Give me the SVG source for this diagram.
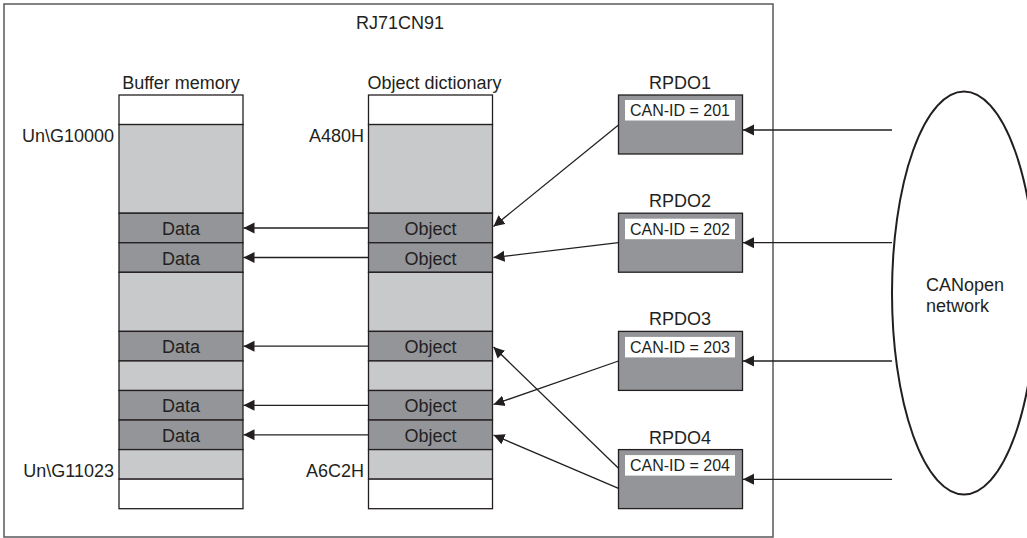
<svg xmlns="http://www.w3.org/2000/svg" width="1027" height="538" viewBox="0 0 1027 538">
<style>
text{font-family:"Liberation Sans",Arial,sans-serif;fill:#231f20}
.t18{font-size:18px}
.t16{font-size:16px}
.mid{text-anchor:middle}
.end{text-anchor:end}
.w{fill:#ffffff;stroke:#231f20;stroke-width:1.3}
.l{fill:#c8c9cb;stroke:#231f20;stroke-width:1.3}
.d{fill:#939598;stroke:#231f20;stroke-width:1.3}
.lbl{fill:#ffffff;stroke:none}
.c{stroke:#231f20;stroke-width:1.3;fill:none;marker-end:url(#ah)}
</style>
<defs>
<marker id="ah" markerUnits="userSpaceOnUse" markerWidth="12" markerHeight="12" refX="11" refY="6" orient="auto">
<path d="M0,0.5 L11,6 L0,11.5 Z" fill="#231f20"/>
</marker>
</defs>
<rect width="1027" height="538" fill="#ffffff"/>
<g id="module">
<rect x="4" y="4" width="769" height="533" fill="none" stroke="#58595b" stroke-width="1.5"/>
<text class="t18 mid" x="400" y="29">RJ71CN91</text>
</g>
<g id="buffer-memory">
<text class="t18 mid" x="181" y="89">Buffer memory</text>
<rect class="w" x="119" y="95" width="124" height="29.55"/>
<rect class="l" x="119" y="124.55" width="124" height="88.65"/>
<rect class="d" x="119" y="213.2" width="124" height="29.55"/>
<rect class="d" x="119" y="242.75" width="124" height="29.55"/>
<rect class="l" x="119" y="272.3" width="124" height="59.1"/>
<rect class="d" x="119" y="331.4" width="124" height="29.55"/>
<rect class="l" x="119" y="360.95" width="124" height="29.55"/>
<rect class="d" x="119" y="390.5" width="124" height="29.55"/>
<rect class="d" x="119" y="420.05" width="124" height="29.55"/>
<rect class="l" x="119" y="449.6" width="124" height="29.55"/>
<rect class="w" x="119" y="479.15" width="124" height="29.55"/>
<text class="t18 mid" x="181" y="235">Data</text>
<text class="t18 mid" x="181" y="264.5">Data</text>
<text class="t18 mid" x="181" y="353">Data</text>
<text class="t18 mid" x="181" y="412">Data</text>
<text class="t18 mid" x="181" y="441.5">Data</text>
<text class="t18 end" x="114" y="142">Un\G10000</text>
<text class="t18 end" x="114" y="477">Un\G11023</text>
</g>
<g id="object-dictionary">
<text class="t18 mid" x="434.5" y="89">Object dictionary</text>
<rect class="w" x="368.5" y="95" width="124" height="29.55"/>
<rect class="l" x="368.5" y="124.55" width="124" height="88.65"/>
<rect class="d" x="368.5" y="213.2" width="124" height="29.55"/>
<rect class="d" x="368.5" y="242.75" width="124" height="29.55"/>
<rect class="l" x="368.5" y="272.3" width="124" height="59.1"/>
<rect class="d" x="368.5" y="331.4" width="124" height="29.55"/>
<rect class="l" x="368.5" y="360.95" width="124" height="29.55"/>
<rect class="d" x="368.5" y="390.5" width="124" height="29.55"/>
<rect class="d" x="368.5" y="420.05" width="124" height="29.55"/>
<rect class="l" x="368.5" y="449.6" width="124" height="29.55"/>
<rect class="w" x="368.5" y="479.15" width="124" height="29.55"/>
<text class="t18 mid" x="430.5" y="235">Object</text>
<text class="t18 mid" x="430.5" y="264.5">Object</text>
<text class="t18 mid" x="430.5" y="353">Object</text>
<text class="t18 mid" x="430.5" y="412">Object</text>
<text class="t18 mid" x="430.5" y="441.5">Object</text>
<text class="t18 end" x="364" y="142">A480H</text>
<text class="t18 end" x="364" y="477">A6C2H</text>
</g>
<g id="rpdo1">
<text class="t18 mid" x="680" y="89">RPDO1</text>
<rect class="d" x="618.5" y="95" width="124" height="59"/>
<rect class="lbl" x="625" y="100" width="110" height="20.5"/>
<text class="t16 mid" x="680" y="116">CAN-ID = 201</text>
</g>
<g id="rpdo2">
<text class="t18 mid" x="680" y="207">RPDO2</text>
<rect class="d" x="618.5" y="213.2" width="124" height="59"/>
<rect class="lbl" x="625" y="218.7" width="110" height="20.5"/>
<text class="t16 mid" x="680" y="234.5">CAN-ID = 202</text>
</g>
<g id="rpdo3">
<text class="t18 mid" x="680" y="324.5">RPDO3</text>
<rect class="d" x="618.5" y="331.4" width="124" height="59"/>
<rect class="lbl" x="625" y="336.9" width="110" height="20.5"/>
<text class="t16 mid" x="680" y="352.7">CAN-ID = 203</text>
</g>
<g id="rpdo4">
<text class="t18 mid" x="680" y="443.5">RPDO4</text>
<rect class="d" x="618.5" y="449.6" width="124" height="59"/>
<rect class="lbl" x="625" y="455.1" width="110" height="20.5"/>
<text class="t16 mid" x="680" y="470.9">CAN-ID = 204</text>
</g>
<g id="canopen-network">
<ellipse cx="964" cy="293" rx="72" ry="201.5" fill="none" stroke="#231f20" stroke-width="2"/>
<text class="t18" x="926" y="291">CANopen</text>
<text class="t18" x="926" y="312">network</text>
</g>
<g id="connectors">
<line class="c" x1="368.5" y1="228" x2="243.5" y2="228"/>
<line class="c" x1="368.5" y1="257.5" x2="243.5" y2="257.5"/>
<line class="c" x1="368.5" y1="346.2" x2="243.5" y2="346.2"/>
<line class="c" x1="368.5" y1="405.3" x2="243.5" y2="405.3"/>
<line class="c" x1="368.5" y1="434.8" x2="243.5" y2="434.8"/>
<line class="c" x1="618.5" y1="125" x2="493.5" y2="226.5"/>
<line class="c" x1="618.5" y1="242.7" x2="493.5" y2="257.5"/>
<line class="c" x1="618.5" y1="361" x2="493.5" y2="404.5"/>
<line class="c" x1="618.5" y1="468.3" x2="493.5" y2="347"/>
<line class="c" x1="618.5" y1="488.3" x2="493.5" y2="435"/>
<line class="c" x1="892" y1="130" x2="743" y2="130"/>
<line class="c" x1="892" y1="242.7" x2="743" y2="242.7"/>
<line class="c" x1="892" y1="361" x2="743" y2="361"/>
<line class="c" x1="892" y1="479.3" x2="743" y2="479.3"/>
</g>
</svg>
